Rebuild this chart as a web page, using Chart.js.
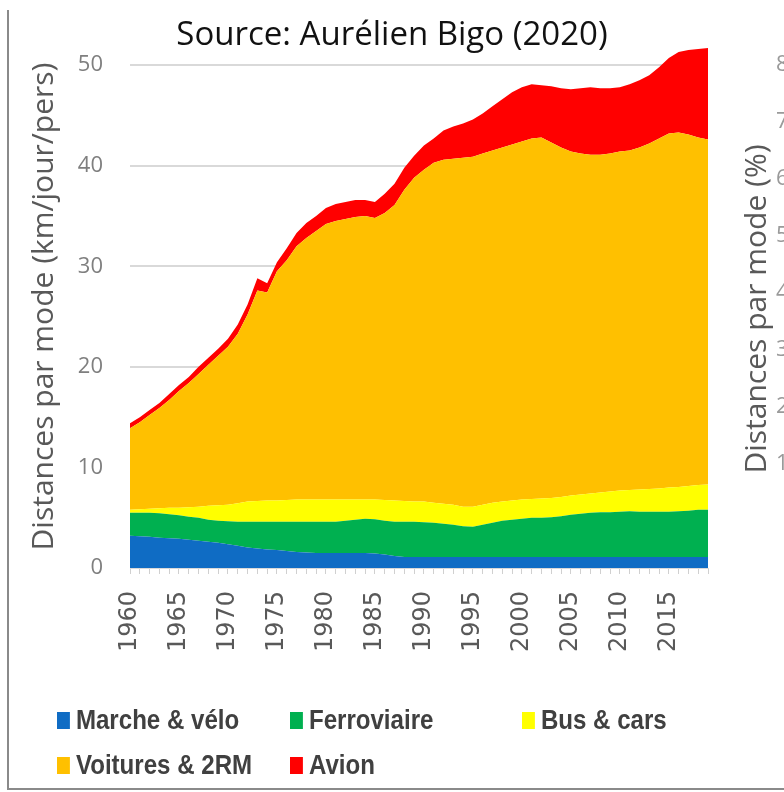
<!DOCTYPE html>
<html>
<head>
<meta charset="utf-8">
<script src="https://cdn.jsdelivr.net/npm/chart.js@4.4.1/dist/chart.umd.min.js"></script>
<style>
  html, body { margin: 0; padding: 0; background: #fff; }
  body { width: 784px; height: 792px; position: relative; overflow: hidden; }
  #chart { position: absolute; left: 0; top: 0; }
  .frame { position: absolute; left: 7px; top: 10px; width: 800px; height: 778px;
           border-left: 2px solid #8a8a8a; border-bottom: 2px solid #8a8a8a; }
  .title { position: absolute; left: 0; top: 16px; width: 784px; text-align: center;
           font: 33px/33px "Open Sans", sans-serif; color: #111; }
  .side-title { position: absolute; left: 755px; top: 309px; white-space: nowrap;
                transform: translate(-50%, -50%) rotate(-90deg);
                font: 30px/36px "Open Sans", sans-serif; color: #595959; }
  .side-tick { position: absolute; left: 776px; font: 22px/22px "Open Sans", sans-serif; color: #9a9a9a; }
  .legend-item { position: absolute; display: flex; align-items: center; white-space: nowrap;
                 transform: scaleX(0.86); transform-origin: left center;
                 font: bold 28px/32px "Liberation Sans Narrow", "Liberation Sans", sans-serif; color: #404040; }
  .legend-item i { display: inline-block; width: 15px; height: 17px; margin-right: 7px; }
</style>
</head>
<body>
<canvas id="chart" width="784" height="792"></canvas>
<div class="frame"></div>
<div class="title">Source: Aurélien Bigo (2020)</div>
<div class="side-title">Distances par mode (%)</div>
<div id="legend"></div>
<script>
"use strict";

/* --- DATA (km/jour/pers) --- */

const years = [
  1960, 1961, 1962, 1963, 1964, 1965, 1966, 1967, 1968, 1969,
  1970, 1971, 1972, 1973, 1974, 1975, 1976, 1977, 1978, 1979,
  1980, 1981, 1982, 1983, 1984, 1985, 1986, 1987, 1988, 1989,
  1990, 1991, 1992, 1993, 1994, 1995, 1996, 1997, 1998, 1999,
  2000, 2001, 2002, 2003, 2004, 2005, 2006, 2007, 2008, 2009,
  2010, 2011, 2012, 2013, 2014, 2015, 2016, 2017, 2018, 2019
];

const marche_velo = [
  3.2, 3.15, 3.1, 3.0, 2.95, 2.9, 2.8, 2.7, 2.6, 2.5,
  2.35, 2.2, 2.05, 1.95, 1.85, 1.8, 1.7, 1.6, 1.55, 1.5,
  1.5, 1.5, 1.5, 1.5, 1.5, 1.45, 1.35, 1.2, 1.1, 1.1,
  1.1, 1.1, 1.1, 1.1, 1.1, 1.1, 1.1, 1.1, 1.1, 1.1,
  1.1, 1.1, 1.1, 1.1, 1.1, 1.1, 1.1, 1.1, 1.1, 1.1,
  1.1, 1.1, 1.1, 1.1, 1.1, 1.1, 1.1, 1.1, 1.1, 1.1
];

const ferroviaire = [
  2.3, 2.35, 2.4, 2.45, 2.4, 2.35, 2.3, 2.3, 2.2, 2.2,
  2.3, 2.4, 2.55, 2.65, 2.75, 2.8, 2.9, 3.0, 3.05, 3.1,
  3.1, 3.1, 3.2, 3.3, 3.4, 3.4, 3.35, 3.4, 3.5, 3.5,
  3.45, 3.4, 3.3, 3.2, 3.05, 3.0, 3.2, 3.4, 3.6, 3.7,
  3.8, 3.9, 3.9, 3.95, 4.05, 4.2, 4.3, 4.4, 4.45, 4.45,
  4.5, 4.55, 4.5, 4.5, 4.5, 4.5, 4.55, 4.6, 4.7, 4.7
];

const bus_cars = [
  0.3, 0.35, 0.4, 0.5, 0.65, 0.75, 0.95, 1.1, 1.4, 1.55,
  1.65, 1.85, 2.0, 2.05, 2.1, 2.1, 2.15, 2.2, 2.2, 2.2,
  2.2, 2.2, 2.1, 2.0, 1.9, 1.95, 2.05, 2.1, 2.05, 2.0,
  2.05, 2.0, 2.0, 2.0, 1.95, 2.0, 2.0, 2.0, 1.9, 1.9,
  1.9, 1.85, 1.9, 1.9, 1.9, 1.9, 1.9, 1.9, 1.95, 2.05,
  2.1, 2.1, 2.2, 2.25, 2.3, 2.4, 2.4, 2.45, 2.45, 2.5
];

const voitures_2rm = [
  8.1, 8.65, 9.3, 9.95, 10.7, 11.6, 12.35, 13.2, 14.0, 14.85,
  15.7, 16.85, 18.6, 20.95, 20.7, 22.8, 23.85, 25.2, 26.0, 26.7,
  27.4, 27.7, 27.9, 28.1, 28.2, 28.0, 28.55, 29.4, 30.95, 32.2,
  33.0, 33.8, 34.2, 34.4, 34.7, 34.8, 34.9, 35.0, 35.2, 35.4,
  35.6, 35.85, 35.9, 35.35, 34.75, 34.2, 33.9, 33.7, 33.6, 33.6,
  33.7, 33.75, 34.0, 34.35, 34.8, 35.2, 35.25, 34.95, 34.55, 34.3
];

const avion = [
  0.5, 0.5, 0.5, 0.5, 0.6, 0.6, 0.6, 0.7, 0.7, 0.7,
  0.8, 0.9, 1.0, 1.2, 0.9, 0.9, 1.2, 1.3, 1.5, 1.5,
  1.6, 1.7, 1.7, 1.7, 1.6, 1.6, 1.9, 2.1, 2.2, 2.2,
  2.4, 2.4, 2.9, 3.2, 3.4, 3.7, 4.0, 4.4, 4.8, 5.2,
  5.4, 5.4, 5.2, 5.6, 5.9, 6.2, 6.5, 6.7, 6.6, 6.5,
  6.4, 6.6, 6.7, 6.8, 7.1, 7.5, 8.0, 8.4, 8.8, 9.1
];

const y_ticks = [0, 10, 20, 30, 40, 50];
const side_ticks = ['80', '70', '60', '50', '40', '30', '20', '10'];

const modes = [
  { label: 'Marche & vélo', data: marche_velo, color: '#0F6CC4' },
  { label: 'Ferroviaire', data: ferroviaire, color: '#00B050' },
  { label: 'Bus & cars', data: bus_cars, color: '#FFFF00' },
  { label: 'Voitures & 2RM', data: voitures_2rm, color: '#FFC000' },
  { label: 'Avion', data: avion, color: '#FF0000' }
];

/* --- LEGEND (html) --- */

const legend_pos = [[57, 720], [290, 720], [522, 720], [57, 765], [290, 765]];
const legend = document.getElementById('legend');
modes.forEach((m, i) => {
  const el = document.createElement('div');
  el.className = 'legend-item';
  el.style.left = legend_pos[i][0] + 'px';
  el.style.top = (legend_pos[i][1] - 16) + 'px';
  el.innerHTML = '<i style="background:' + m.color + '"></i>';
  el.appendChild(document.createTextNode(m.label));
  legend.appendChild(el);
});

side_ticks.forEach((t, i) => {
  const el = document.createElement('div');
  el.className = 'side-tick';
  el.style.top = (51 + i * 57) + 'px';
  el.textContent = t;
  document.body.appendChild(el);
});

/* --- CHART --- */

const ctx = document.getElementById('chart');

new Chart(ctx, {
  type: 'line',
  data: {
    labels: years,
    datasets: modes.map((m, i) => ({
      label: m.label,
      data: m.data,
      backgroundColor: m.color,
      borderColor: m.color,
      borderWidth: 0,
      pointRadius: 0,
      tension: 0,
      fill: i === 0 ? 'origin' : '-1'
    }))
  },
  options: {
    responsive: false,
    animation: false,
    layout: { padding: { top: 45, right: 76, bottom: 0, left: 0 } },
    plugins: {
      legend: { display: false },
      tooltip: { enabled: false },
      title: { display: false }
    },
    scales: {
      x: {
        offset: false,
        grid: { drawOnChartArea: false, drawTicks: true, tickLength: 6, color: '#d0d0d0' },
        border: { display: true, color: '#d9d9d9' },
        ticks: {
          autoSkip: false,
          maxRotation: 90,
          minRotation: 90,
          padding: 17,
          color: '#595959',
          font: { family: 'DejaVu Sans', size: 24 },
          callback: function (v, i) {
            return years[i] % 5 === 0 ? String(years[i]) : '';
          }
        },
        afterFit: function (scale) { scale.height = 224; }
      },
      y: {
        stacked: true,
        min: 0,
        max: 52,
        afterBuildTicks: function (scale) {
          scale.ticks = y_ticks.map(v => ({ value: v }));
        },
        grid: { color: '#d9d9d9', lineWidth: 2, drawTicks: false },
        border: { display: false },
        ticks: {
          padding: 27,
          color: '#7f7f7f',
          font: { family: 'Open Sans', size: 22 }
        },
        title: {
          display: true,
          text: 'Distances par mode (km/jour/pers)',
          color: '#595959',
          font: { family: 'Open Sans', size: 30 },
          padding: { top: 26, bottom: 0 }
        },
        afterFit: function (scale) { scale.width = 130; }
      }
    }
  }
});
</script>
</body>
</html>
